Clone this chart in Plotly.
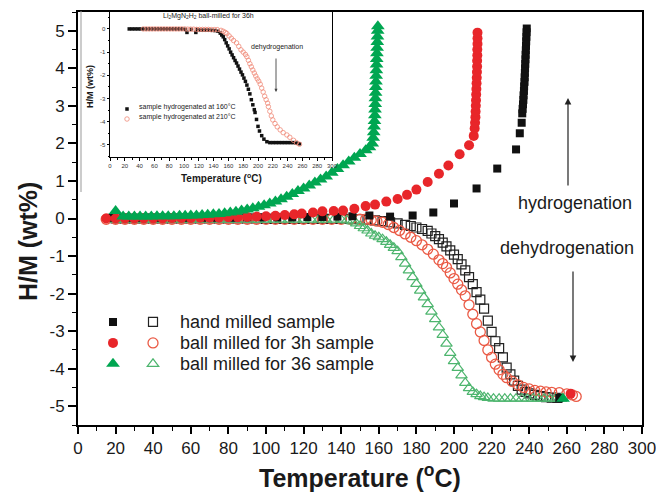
import plotly.graph_objects as go

FONT = "Liberation Sans, Arial, sans-serif"
W, H = 656, 497
L, R, T, B = 78, 642, 12, 425


def px(x):
    return (x - L) / (R - L)


def py(y):
    return (B - y) / (B - T)


# ---------------- main chart data (Temperature degC, H/M wt%) ----------------
x_ticks = [0, 20, 40, 60, 80, 100, 120, 140, 160, 180, 200, 220, 240, 260, 280, 300]
y_ticks = [-5, -4, -3, -2, -1, 0, 1, 2, 3, 4, 5]

# hydrogenation (filled symbols)
hm_hyd = [(18, 0.02), (26, 0.02), (34, 0.02), (42, 0.02), (50, 0.02), (58, 0.02), (66, 0.02),
          (74, 0.02), (82, 0.02), (90, 0.03), (98, 0.03), (106, 0.03), (114, 0.03), (122, 0.04),
          (130, 0.04), (138, 0.05), (146, 0.06), (155, 0.08), (166, 0.05), (178, 0.08), (189, 0.16),
          (200, 0.40), (212, 0.80), (223, 1.33), (233, 1.84), (235, 2.27), (236, 2.55), (236.3, 2.80),
          (236.5, 2.92), (236.7, 3.04), (236.9, 3.16), (237.0, 3.28), (237.2, 3.40), (237.3, 3.52),
          (237.5, 3.64), (237.6, 3.76), (237.7, 3.88), (237.8, 4.00), (237.9, 4.12), (238.0, 4.24),
          (238.1, 4.36), (238.2, 4.48), (238.3, 4.60), (238.4, 4.72), (238.5, 4.84), (238.6, 4.96),
          (238.7, 5.06), (256, -4.78)]

bm3_hyd = [(15, 0.0), (20, 0.0), (25, 0.0), (30, 0.0), (35, 0.0), (40, 0.0), (45, 0.0), (50, 0.01),
           (55, 0.01), (60, 0.01), (65, 0.02), (70, 0.02), (75, 0.02), (80, 0.03), (85, 0.03),
           (90, 0.04), (95, 0.05), (100, 0.06), (105, 0.07), (110, 0.09), (115, 0.11), (119, 0.13),
           (125, 0.16), (130, 0.19), (136, 0.20), (141, 0.21), (147, 0.26), (153, 0.33), (158, 0.37),
           (164, 0.45), (170, 0.52), (175, 0.63), (180, 0.77), (186, 0.97), (192, 1.19), (197, 1.41),
           (203, 1.71), (208, 1.95), (210.5, 2.2), (211, 2.4), (211.2, 2.55), (211.4, 2.7),
           (211.5, 2.85), (211.6, 3.0), (211.7, 3.15), (211.8, 3.3), (211.9, 3.45), (212, 3.6),
           (212.1, 3.75), (212.2, 3.9), (212.3, 4.05), (212.3, 4.2), (212.4, 4.35), (212.4, 4.5),
           (212.5, 4.65), (212.5, 4.8), (212.5, 4.95), (262, -4.67)]

bm36_hyd = [(20, 0.2), (24, 0.05), (27, 0.05), (30, 0.05), (33, 0.05), (36, 0.05), (39, 0.05),
            (42, 0.06), (45, 0.06), (48, 0.06), (51, 0.06), (54, 0.07), (57, 0.07), (60, 0.08),
            (63, 0.08), (66, 0.09), (69, 0.1), (72, 0.11), (75, 0.12), (78, 0.14), (81, 0.16),
            (84, 0.18), (87, 0.21), (90, 0.24), (93, 0.27), (96, 0.31), (99, 0.35), (102, 0.4),
            (105, 0.45), (108, 0.51), (111, 0.58), (114, 0.65), (117, 0.73), (120, 0.8), (123, 0.88),
            (126, 0.96), (129, 1.04), (132, 1.12), (135, 1.22), (138, 1.32), (141, 1.42), (144, 1.52),
            (147, 1.62), (150, 1.72), (153, 1.82), (155, 1.9), (156.5, 2.0), (157, 2.15), (157.3, 2.3),
            (157.5, 2.45), (157.7, 2.6), (157.9, 2.75), (158, 2.9), (158.1, 3.05), (158.2, 3.2),
            (158.3, 3.35), (158.4, 3.5), (158.5, 3.65), (158.6, 3.8), (158.7, 3.95), (158.8, 4.1),
            (158.9, 4.25), (159, 4.4), (159.1, 4.55), (159.2, 4.7), (159.3, 4.85), (159.4, 5.0),
            (159.5, 5.12), (258, -4.8)]

# dehydrogenation (open symbols)
hm_dehyd = [(20, 0.0), (25, 0.0), (30, 0.0), (35, 0.0), (40, 0.0), (45, 0.0), (50, 0.0), (55, 0.0),
            (60, 0.0), (65, 0.0), (70, 0.0), (75, 0.0), (80, 0.0), (85, 0.0), (90, 0.0), (95, 0.0),
            (100, -0.01), (105, -0.01), (110, -0.01), (115, -0.01), (120, -0.01), (125, -0.01),
            (130, -0.01), (135, -0.01), (140, -0.01), (145, -0.01), (150, -0.02), (154, -0.03),
            (158, -0.05), (162, -0.07), (166, -0.1), (170, -0.13), (174, -0.17), (177, -0.2),
            (180, -0.24), (183, -0.28), (186, -0.33), (188, -0.4), (190, -0.47), (192, -0.55),
            (194, -0.64), (196, -0.74), (198, -0.85), (200, -0.96), (202, -1.08), (204, -1.22),
            (206, -1.38), (208, -1.56), (210, -1.75), (212, -1.96), (214, -2.16), (216, -2.4),
            (218, -2.72), (220, -3.02), (222, -3.27), (224, -3.45), (226, -3.7), (228, -3.97),
            (230, -4.15), (232, -4.32), (234, -4.46), (236, -4.56), (238, -4.62), (240, -4.66),
            (243, -4.7), (246, -4.73), (249, -4.76), (252, -4.77), (255, -4.78)]

bm3_dehyd = [(15, -0.02), (20, -0.02), (25, -0.02), (30, -0.02), (35, -0.02), (40, -0.02),
             (45, -0.02), (50, -0.02), (55, -0.02), (60, -0.02), (65, -0.02), (70, -0.02),
             (75, -0.02), (80, -0.02), (85, -0.02), (90, -0.02), (95, -0.02), (100, -0.02),
             (105, -0.02), (110, -0.02), (115, -0.02), (120, -0.02), (125, -0.02), (130, -0.02),
             (135, -0.02), (140, -0.02), (145, -0.02), (150, -0.02), (153, -0.02), (156, -0.04),
             (159, -0.07), (162, -0.1), (165, -0.16), (168, -0.24), (171, -0.32), (174, -0.41),
             (177, -0.5), (180, -0.59), (183, -0.7), (186, -0.82), (189, -0.95), (192, -1.1),
             (194, -1.2), (196, -1.3), (198, -1.45), (200, -1.6), (202, -1.75), (204, -1.9),
             (206, -2.06), (208, -2.3), (210, -2.55), (212, -2.8), (214, -3.02), (216, -3.25),
             (218, -3.5), (220, -3.7), (222, -3.88), (224, -4.03), (226, -4.15), (228, -4.24),
             (231, -4.34), (234, -4.43), (237, -4.5), (240, -4.54), (243, -4.58), (246, -4.6),
             (249, -4.62), (252, -4.63), (256, -4.64), (260, -4.67), (263, -4.7), (265, -4.74)]

bm36_dehyd = [(20, -0.03), (24, -0.03), (28, -0.03), (32, -0.03), (36, -0.03), (40, -0.03),
              (44, -0.03), (48, -0.03), (52, -0.03), (56, -0.03), (60, -0.03), (64, -0.03),
              (68, -0.03), (72, -0.03), (76, -0.03), (80, -0.03), (84, -0.03), (88, -0.03),
              (92, -0.03), (96, -0.03), (100, -0.03), (104, -0.03), (108, -0.03), (112, -0.03),
              (116, -0.03), (120, -0.03), (124, -0.03), (128, -0.03), (132, -0.03), (136, -0.03),
              (140, -0.03), (143, -0.05), (146, -0.08), (148, -0.13), (150, -0.2), (152, -0.26),
              (154, -0.32), (156, -0.4), (158, -0.46), (160, -0.5), (162, -0.55), (164, -0.62),
              (166, -0.7), (168, -0.78), (170, -0.87), (172, -1.03), (174, -1.2), (176, -1.38),
              (178, -1.56), (180, -1.74), (182, -1.92), (184, -2.1), (186, -2.28), (188, -2.48),
              (190, -2.68), (192, -2.9), (194, -3.1), (196, -3.33), (198, -3.58), (200, -3.8),
              (202, -3.98), (204, -4.18), (206, -4.38), (208, -4.52), (210, -4.62), (212, -4.68),
              (214, -4.73), (216, -4.76), (218, -4.78), (221, -4.8), (224, -4.8), (227, -4.8),
              (230, -4.8), (233, -4.8), (236, -4.8), (239, -4.8), (242, -4.8), (245, -4.8),
              (248, -4.8), (251, -4.8), (254, -4.8), (257, -4.8)]

# ---------------- inset data ----------------
inset_x_ticks = [0, 20, 40, 60, 80, 100, 120, 140, 160, 180, 200, 220, 240, 260, 280, 300]
inset_y_ticks = [-5, -4, -3, -2, -1, 0]

ins_160 = [(26, 0), (30, 0), (34, 0), (38, 0), (42, 0), (46, 0), (50, 0), (54, 0), (58, 0), (62, 0),
           (66, 0), (70, 0), (74, 0), (78, 0), (82, 0), (86, 0), (90, 0), (94, 0), (98, 0),
           (102, -0.02), (104, -0.15), (110, -0.02), (116, -0.15), (118, -0.02), (122, -0.05),
           (126, -0.05), (130, -0.05), (134, -0.05), (138, -0.06), (142, -0.07), (146, -0.1),
           (149, -0.18), (151, -0.26), (153, -0.34), (155, -0.46), (157, -0.6), (159, -0.73),
           (161, -0.86), (163, -1.0), (165, -1.12), (167, -1.24), (169, -1.36), (171, -1.47),
           (173, -1.6), (175, -1.73), (177, -1.86), (179, -1.98), (181, -2.12), (183, -2.26),
           (185, -2.42), (187, -2.6), (189, -2.8), (191, -3.05), (193, -3.27), (195, -3.48),
           (196, -3.6), (198, -3.9), (200, -4.2), (202, -4.4), (205, -4.6), (208, -4.75),
           (212, -4.86), (216, -4.9), (220, -4.9), (224, -4.9), (228, -4.9), (232, -4.9),
           (236, -4.9), (240, -4.9), (244, -4.9), (248, -4.9), (252, -4.92), (256, -4.95)]

ins_210 = [(45, 0), (49, 0), (53, 0), (57, 0), (61, 0), (65, 0), (69, 0), (73, 0), (77, 0), (81, 0),
           (85, 0), (89, 0), (93, 0), (97, 0), (101, 0), (105, -0.01), (109, -0.01), (113, -0.01),
           (117, -0.02), (121, -0.02), (125, -0.02), (129, -0.02), (133, -0.02), (137, -0.03),
           (141, -0.03), (145, -0.03), (150, -0.06), (153, -0.1), (156, -0.15), (158, -0.2),
           (161, -0.3), (164, -0.4), (167, -0.5), (171, -0.6), (174, -0.75), (177, -0.9),
           (180, -1.0), (183, -1.1), (185, -1.2), (187, -1.35), (189, -1.5), (191, -1.63),
           (193, -1.77), (195, -1.9), (197, -2.03), (199, -2.15), (201, -2.25), (203, -2.38),
           (205, -2.55), (207, -2.72), (209, -2.9), (211, -3.05), (213, -3.2), (214, -3.35),
           (216, -3.55), (218, -3.75), (220, -3.92), (223, -4.08), (226, -4.22), (230, -4.35),
           (234, -4.47), (239, -4.57), (243, -4.67), (248, -4.8), (252, -4.9), (256, -4.97)]

legend_labels = ["hand milled sample", "ball milled for 3h sample", "ball milled for 36 sample"]
inset_labels = ["sample hydrogenated at 160\u00b0C", "sample hydrogenated at 210\u00b0C"]

BLACK = "#111111"
RED = "#e8262a"
RED_OPEN = "#ea5a45"
GREEN = "#00a651"
GREEN_OPEN = "#4db56e"
INS_RED = "#f08a78"

fig = go.Figure()


def add(data, symbol, size, color, legend, lw=0, xa="x", ya="y"):
    fig.add_trace(go.Scatter(
        x=[p[0] for p in data], y=[p[1] for p in data], mode="markers",
        marker=dict(symbol=symbol, size=size, color=color,
                    line=dict(width=lw, color=color)),
        name="", showlegend=True, legend=legend, xaxis=xa, yaxis=ya,
        hoverinfo="skip"))


# open (dehydrogenation) series
add(hm_dehyd, "square-open", 9, "#222222", "legend2", lw=1.2)
add(bm3_dehyd, "circle-open", 10, RED_OPEN, "legend2", lw=1.3)
add(bm36_dehyd, "triangle-up-open", 10, GREEN_OPEN, "legend2", lw=1.2)
# filled (hydrogenation) series
add(hm_hyd, "square", 8, BLACK, "legend")
add(bm3_hyd, "circle", 10, RED, "legend")
add(bm36_hyd, "triangle-up", 12, GREEN, "legend")
# inset series
add(ins_160, "square", 3.5, BLACK, "legend3", xa="x2", ya="y2")
add(ins_210, "circle-open", 4.5, INS_RED, "legend4", lw=0.8, xa="x2", ya="y2")


def ann(text, x, y, size, bold=False, angle=0, xanchor="center", color="#1a1a1a"):
    if bold:
        text = "<b>" + text + "</b>"
    return dict(text=text, x=px(x), y=py(y), xref="paper", yref="paper", showarrow=False,
                font=dict(size=size, family=FONT, color=color), xanchor=xanchor,
                yanchor="middle", textangle=angle)


annotations = [
    ann("H/M (wt%)", 28, 242, 25, bold=True, angle=-90),
    ann("Temperature (<sup>o</sup>C)", 360, 476, 25, bold=True),
    ann("hydrogenation", 575, 203, 18),
    ann("dehydrogenation", 567, 248, 18),
    ann(legend_labels[0], 178, 322, 18, xanchor="left"),
    ann(legend_labels[1], 178, 343, 18, xanchor="left"),
    ann(legend_labels[2], 178, 364, 18, xanchor="left"),
    # inset texts
    ann("Li<sub>2</sub>MgN<sub>2</sub>H<sub>2</sub> ball-milled for 36h", 208, 16, 7),
    ann("dehydrogenation", 277, 47, 7),
    ann(inset_labels[0], 137, 107, 7, xanchor="left"),
    ann(inset_labels[1], 137, 117, 7, xanchor="left"),
    ann("H/M (wt%)", 90, 87, 9, bold=True, angle=-90),
    ann("Temperature (<sup>o</sup>C)", 221, 178, 10, bold=True),
]

# arrows
for hx, hy, ay in [(568, 98, 89), (573, 362, -92)]:
    annotations.append(dict(x=px(hx), y=py(hy), xref="paper", yref="paper", text="",
                             showarrow=True, ax=0, ay=ay, arrowhead=2, arrowsize=1.1,
                             arrowwidth=1.2, arrowcolor="#222222"))
annotations.append(dict(x=px(276), y=py(92), xref="paper", yref="paper", text="",
                        showarrow=True, ax=0, ay=-35, arrowhead=2, arrowsize=0.7,
                        arrowwidth=0.9, arrowcolor="#444444"))

axis_common = dict(showgrid=False, zeroline=False, linecolor="black", mirror=True,
                   ticks="outside", tickcolor="black", tickmode="array", automargin=False,
                   ticklabeloverflow="allow")


def leg(x, y, size=13.8):
    return dict(x=px(x), y=py(y), xanchor="left", yanchor="middle", bgcolor="rgba(0,0,0,0)",
                font=dict(size=size, family=FONT), itemsizing="trace", tracegroupgap=0,
                borderwidth=0)


fig.update_layout(
    width=W, height=H,
    margin=dict(l=L, r=W - R, t=T, b=H - B, autoexpand=False),
    paper_bgcolor="white", plot_bgcolor="white",
    font=dict(family=FONT, color="#1a1a1a"),
    xaxis=dict(axis_common, domain=[0, 1], range=[0, 300], tickvals=x_ticks,
               ticktext=[str(v) for v in x_ticks], linewidth=2, ticklen=7, tickwidth=1.6,
               tickfont=dict(size=17, family=FONT, color="#1a1a1a"),
               minor=dict(ticks="outside", tickmode="linear", tick0=0, dtick=10, ticklen=4,
                          tickwidth=1.4, tickcolor="black")),
    yaxis=dict(axis_common, domain=[0, 1], range=[-5.5, 5.5], tickvals=y_ticks,
               ticktext=[str(v) for v in y_ticks], linewidth=2, ticklen=8, tickwidth=1.6,
               tickfont=dict(size=17, family=FONT, color="#1a1a1a"),
               minor=dict(ticks="outside", tickmode="linear", tick0=0, dtick=0.5, ticklen=4,
                          tickwidth=1.4, tickcolor="black")),
    xaxis2=dict(axis_common, domain=[px(110), px(332)], anchor="y2", range=[0, 300],
                tickvals=inset_x_ticks, ticktext=[str(v) for v in inset_x_ticks],
                linewidth=1, ticklen=2.5, tickwidth=0.8,
                tickfont=dict(size=6, family=FONT, color="#333333"),
                minor=dict(ticks="outside", tickmode="linear", tick0=0, dtick=10, ticklen=1.5,
                           tickwidth=0.7, tickcolor="black")),
    yaxis2=dict(axis_common, domain=[py(157), 1], anchor="x2", range=[-5.52, 0.73],
                tickvals=inset_y_ticks, ticktext=[str(v) for v in inset_y_ticks],
                linewidth=1, ticklen=2.5, tickwidth=0.8,
                tickfont=dict(size=6, family=FONT, color="#333333"),
                minor=dict(ticks="outside", tickmode="linear", tick0=0, dtick=0.5, ticklen=1.5,
                           tickwidth=0.7, tickcolor="black")),
    legend=leg(93, 343),
    legend2=leg(133, 343),
    legend3=leg(107, 109, size=7),
    legend4=leg(107, 119, size=7),
    annotations=annotations,
    shapes=[dict(type="line", xref="paper", yref="paper", x0=px(81), x1=px(81),
                 y0=py(192), y1=py(11), line=dict(color="#999999", width=1))],
)

fig.write_html("out.html", config={"displayModeBar": False},
               post_script="document.body.style.margin='0';")
